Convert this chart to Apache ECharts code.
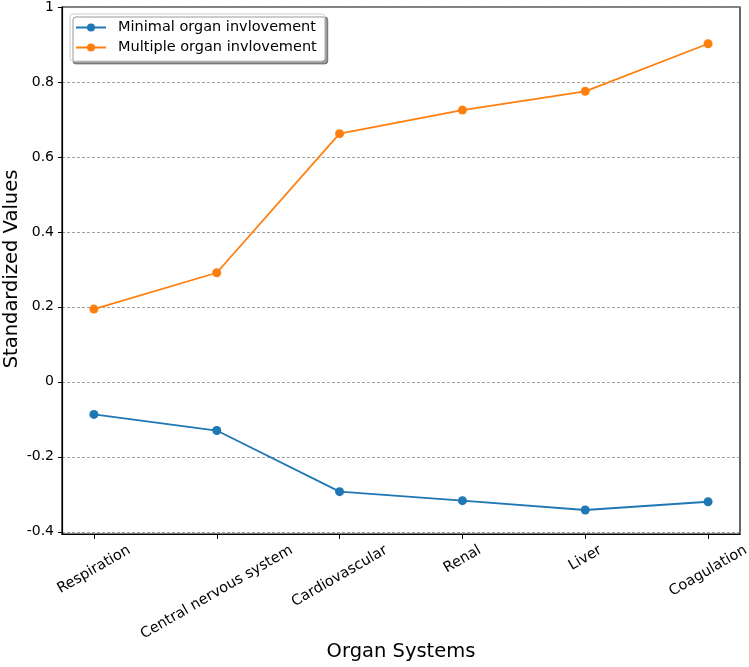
<!DOCTYPE html>
<html><head><meta charset="utf-8">
<script src="https://cdn.jsdelivr.net/npm/echarts@6/dist/echarts.min.js"></script>
<style>html,body{margin:0;padding:0;background:#fff}#c{width:749px;height:667px}</style>
</head><body><div id="c"></div>
<script>
const categories = ['Respiration', 'Central nervous system', 'Cardiovascular', 'Renal', 'Liver', 'Coagulation'];
const minimalValues = [-0.087, -0.130, -0.293, -0.317, -0.342, -0.320];
const multipleValues = [0.194, 0.291, 0.662, 0.725, 0.775, 0.902];
const yTicks = [-0.4, -0.2, 0, 0.2, 0.4, 0.6, 0.8, 1];
const seriesNames = ['Minimal organ invlovement', 'Multiple organ invlovement'];
const xTitle = 'Organ Systems';
const yTitle = 'Standardized Values';

const font = 'DejaVu Sans';
const tickFont = 14.5;
// matplotlib-like rotated labels: horizontally centred on tick, top of rotated box aligned
const cv = document.createElement('canvas').getContext('2d');
cv.font = tickFont + 'px "' + font + '"';
const rad = Math.PI / 6, lineH = tickFont * 1.15;
const rich = {};
categories.forEach((c, i) => {
  const L = cv.measureText(c).width;
  const V = L * Math.sin(rad) + lineH * Math.cos(rad);
  const D = V / 2;
  rich['r' + i] = { fontSize: tickFont, fontFamily: font, color: '#000', padding: [D * 1.732, D, 0, 0] };
});

const chart = echarts.init(document.getElementById('c'));
const toPts = arr => arr.map((v, i) => [i, v]);
chart.setOption({
  animation: false,
  textStyle: { fontFamily: font },
  grid: { left: 62, right: 9, top: 7, bottom: 133, outerBoundsMode: 'none', containLabel: false,
    show: true, borderColor: '#000', borderWidth: 1.2, backgroundColor: 'transparent' },
  graphic: [
    { type: 'text', x: 401, y: 652, style: { text: xTitle, font: '19.5px "DejaVu Sans"', fill: '#000', align: 'center', verticalAlign: 'middle' } },
    { type: 'text', x: 12, y: 269, rotation: Math.PI / 2, style: { text: yTitle, font: '19.5px "DejaVu Sans"', fill: '#000', align: 'center', verticalAlign: 'middle' } }
  ],
  legend: {
    orient: 'vertical', left: 70, top: 14,
    data: seriesNames,
    itemWidth: 30, itemHeight: 10, itemGap: 5,
    padding: [6, 8, 6, 5],
    backgroundColor: '#fff', borderColor: '#ccc', borderWidth: 1, borderRadius: 3,
    shadowColor: 'rgba(0,0,0,0.4)', shadowBlur: 0, shadowOffsetX: 3, shadowOffsetY: 3,
    textStyle: { fontFamily: font, fontSize: 14.5, color: '#000', padding: [0, 0, 0, 7] }
  },
  xAxis: {
    type: 'value', min: -0.26, max: 5.26,
    axisLine: { show: true, onZero: false, lineStyle: { color: '#000', width: 1.2 } },
    axisTick: { show: true, length: 5, customValues: [0, 1, 2, 3, 4, 5], lineStyle: { color: '#000' } },
    axisLabel: { customValues: [0, 1, 2, 3, 4, 5], rotate: 30, margin: 8, align: 'center', verticalAlign: 'middle',
      hideOverlap: false, fontSize: tickFont, color: '#000', fontFamily: font, rich: rich,
      formatter: v => { const i = Math.round(v); return '{r' + i + '|' + categories[i] + '}'; } },
    splitLine: { show: false }
  },
  yAxis: {
    type: 'value', min: -0.406, max: 1,
    axisLine: { show: true, onZero: false, lineStyle: { color: '#000', width: 1.2 } },
    axisTick: { show: true, length: 4, customValues: yTicks, lineStyle: { color: '#000' } },
    axisLabel: { customValues: yTicks, margin: 8, fontSize: 14, color: '#000', fontFamily: font,
      formatter: v => String(Math.round(v * 10) / 10) },
    splitLine: { show: true, lineStyle: { color: '#888', type: [3, 2], width: 0.8 } }
  },
  series: [
    { name: seriesNames[0], type: 'line', data: toPts(minimalValues), color: '#1f77b4',
      symbol: 'circle', symbolSize: 9, lineStyle: { width: 1.8 } },
    { name: seriesNames[1], type: 'line', data: toPts(multipleValues), color: '#ff7f0e',
      symbol: 'circle', symbolSize: 9, lineStyle: { width: 1.8 } }
  ]
});
</script></body></html>
